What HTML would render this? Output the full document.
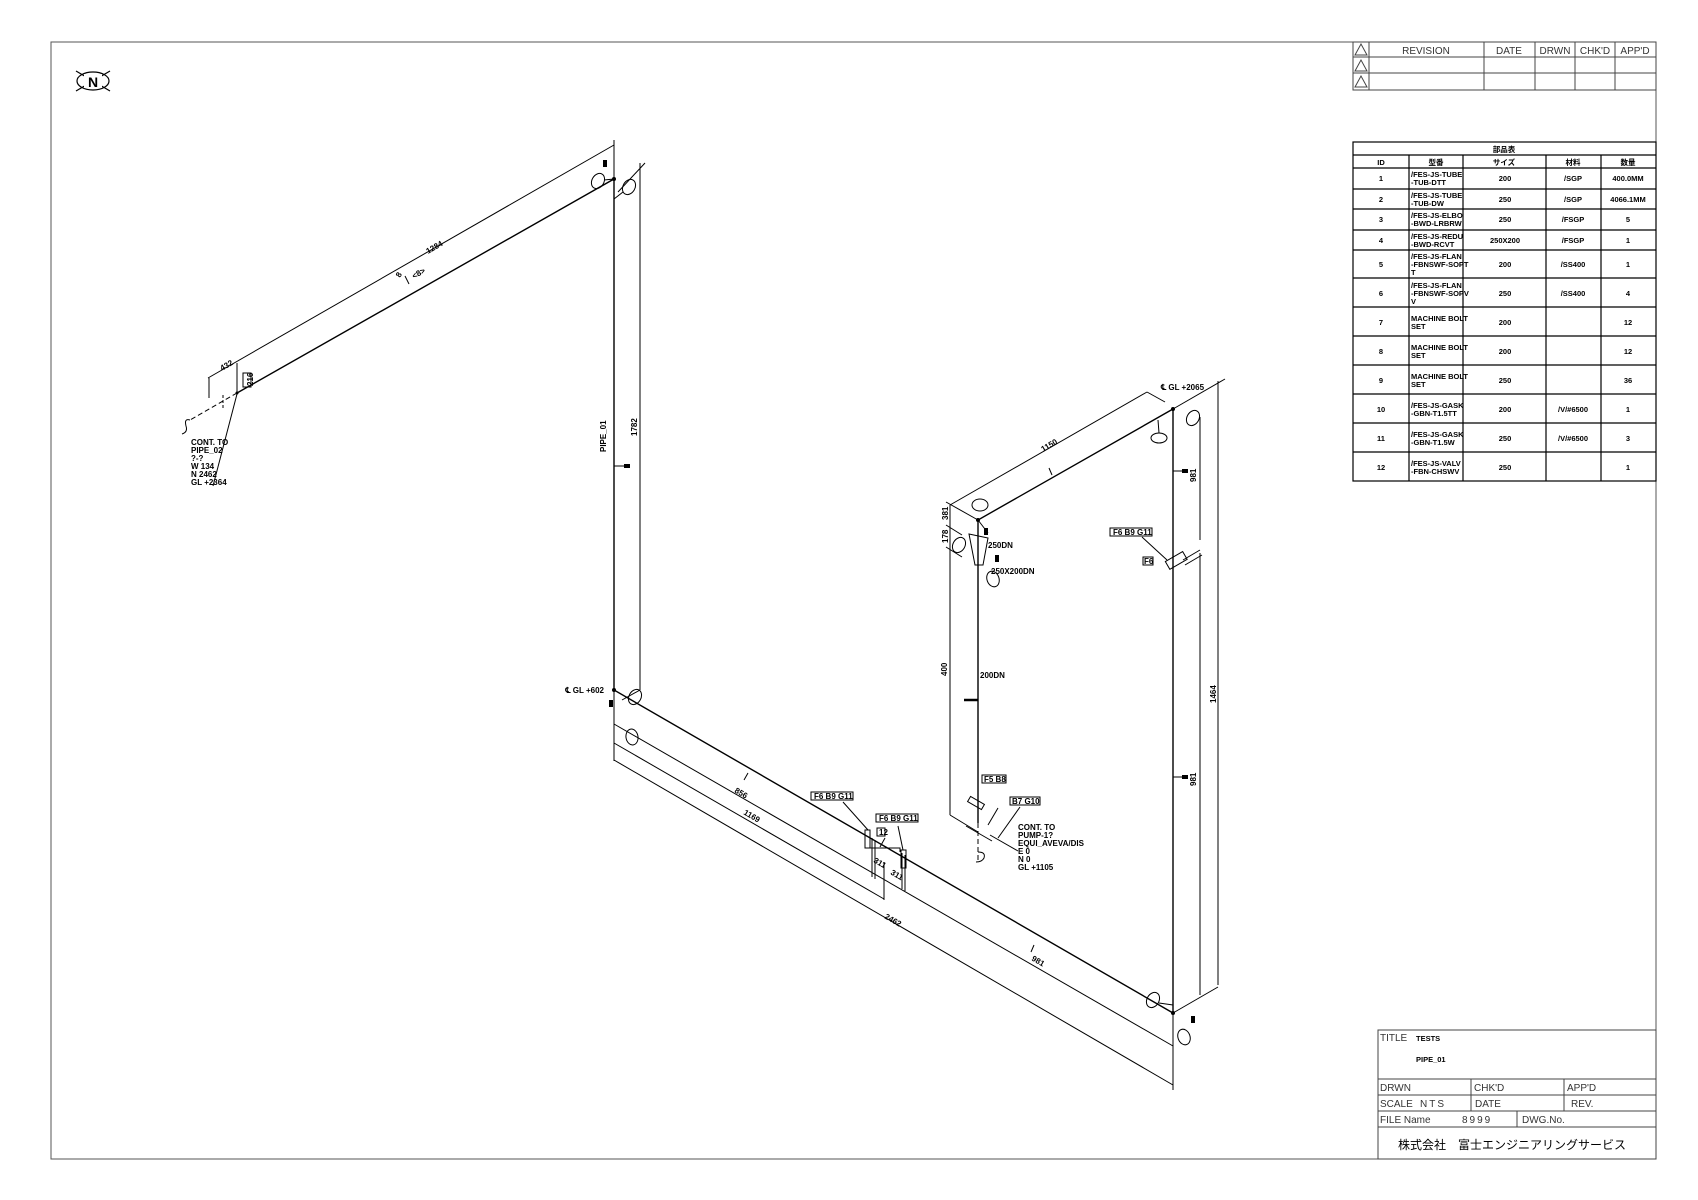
<!DOCTYPE html>
<html><head><meta charset="utf-8"><style>
html,body{margin:0;padding:0;background:#fff;}
svg{display:block;}
text{font-family:"Liberation Sans","Noto Sans CJK JP",sans-serif;}
.s{font-size:8px;font-weight:bold;fill:#000;}
.t{font-size:7.5px;font-weight:bold;fill:#000;}
.r{font-size:10px;fill:#333;}
</style></head><body>
<svg width="1698" height="1200" viewBox="0 0 1698 1200" xmlns="http://www.w3.org/2000/svg">
<rect x="51" y="42" width="1605" height="1117" fill="none" stroke="#555" stroke-width="1"/>
<!-- North -->
<g stroke="#000" fill="none" stroke-width="1.2">
<ellipse cx="93" cy="81" rx="16" ry="9"/>
<line x1="76" y1="71" x2="110" y2="91"/><line x1="110" y1="71" x2="76" y2="91"/>
</g>
<rect x="84" y="74" width="18" height="14" fill="#fff"/>
<text x="93" y="87" font-size="14" font-weight="bold" text-anchor="middle" font-family="Liberation Sans,sans-serif">N</text>

<!-- Revision table -->
<g stroke="#444" stroke-width="1" fill="none">
<rect x="1353" y="42" width="303" height="48"/>
<line x1="1353" y1="57" x2="1656" y2="57"/><line x1="1353" y1="73" x2="1656" y2="73"/>
<line x1="1369" y1="42" x2="1369" y2="90"/><line x1="1484" y1="42" x2="1484" y2="90"/>
<line x1="1535" y1="42" x2="1535" y2="90"/><line x1="1575" y1="42" x2="1575" y2="90"/>
<line x1="1615" y1="42" x2="1615" y2="90"/>
<path d="M1355 55 L1361 44 L1367 55 Z M1355 71 L1361 60 L1367 71 Z M1355 87 L1361 76 L1367 87 Z"/>
</g>
<text class="r" x="1426" y="54" text-anchor="middle">REVISION</text>
<text class="r" x="1509" y="54" text-anchor="middle">DATE</text>
<text class="r" x="1555" y="54" text-anchor="middle">DRWN</text>
<text class="r" x="1595" y="54" text-anchor="middle">CHK'D</text>
<text class="r" x="1635" y="54" text-anchor="middle" font-size="9">APP'D</text>

<!-- Parts table -->
<g stroke="#000" stroke-width="1.2" fill="none">
<rect x="1353" y="142" width="303" height="339"/>
<line x1="1353" y1="155" x2="1656" y2="155"/>
<line x1="1353" y1="168" x2="1656" y2="168"/><line x1="1353" y1="189" x2="1656" y2="189"/>
<line x1="1353" y1="209" x2="1656" y2="209"/><line x1="1353" y1="230" x2="1656" y2="230"/>
<line x1="1353" y1="250" x2="1656" y2="250"/><line x1="1353" y1="278" x2="1656" y2="278"/>
<line x1="1353" y1="307" x2="1656" y2="307"/><line x1="1353" y1="336" x2="1656" y2="336"/>
<line x1="1353" y1="365" x2="1656" y2="365"/><line x1="1353" y1="394" x2="1656" y2="394"/>
<line x1="1353" y1="423" x2="1656" y2="423"/><line x1="1353" y1="452" x2="1656" y2="452"/>
<line x1="1409" y1="155" x2="1409" y2="481"/><line x1="1463" y1="155" x2="1463" y2="481"/>
<line x1="1546" y1="155" x2="1546" y2="481"/><line x1="1601" y1="155" x2="1601" y2="481"/>
</g>
<g class="t">
<text class="t" x="1504" y="152" text-anchor="middle" font-family="Noto Sans CJK JP,sans-serif" font-size="6">部品表</text>
<text class="t" x="1381" y="165" text-anchor="middle">ID</text>
<text class="t" x="1436" y="165" text-anchor="middle" font-size="6">型番</text>
<text class="t" x="1504" y="165" text-anchor="middle" font-size="6">サイズ</text>
<text class="t" x="1573" y="165" text-anchor="middle" font-size="6">材料</text>
<text class="t" x="1628" y="165" text-anchor="middle" font-size="6">数量</text>
</g>
<g class="t" text-anchor="middle">
<text class="t" x="1381" y="181">1</text><text class="t" x="1381" y="202">2</text><text class="t" x="1381" y="222">3</text><text class="t" x="1381" y="243">4</text><text class="t" x="1381" y="267">5</text><text class="t" x="1381" y="296">6</text><text class="t" x="1381" y="325">7</text><text class="t" x="1381" y="354">8</text><text class="t" x="1381" y="383">9</text><text class="t" x="1381" y="412">10</text><text class="t" x="1381" y="441">11</text><text class="t" x="1381" y="470">12</text>
<text class="t" x="1505" y="181">200</text><text class="t" x="1505" y="202">250</text><text class="t" x="1505" y="222">250</text><text class="t" x="1505" y="243">250X200</text><text class="t" x="1505" y="267">200</text><text class="t" x="1505" y="296">250</text><text class="t" x="1505" y="325">200</text><text class="t" x="1505" y="354">200</text><text class="t" x="1505" y="383">250</text><text class="t" x="1505" y="412">200</text><text class="t" x="1505" y="441">250</text><text class="t" x="1505" y="470">250</text>
<text class="t" x="1573" y="181">/SGP</text><text class="t" x="1573" y="202">/SGP</text><text class="t" x="1573" y="222">/FSGP</text><text class="t" x="1573" y="243">/FSGP</text><text class="t" x="1573" y="267">/SS400</text><text class="t" x="1573" y="296">/SS400</text><text class="t" x="1573" y="412">/V/#6500</text><text class="t" x="1573" y="441">/V/#6500</text>
<text class="t" x="1628" y="181">400.0MM</text><text class="t" x="1628" y="202">4066.1MM</text><text class="t" x="1628" y="222">5</text><text class="t" x="1628" y="243">1</text><text class="t" x="1628" y="267">1</text><text class="t" x="1628" y="296">4</text><text class="t" x="1628" y="325">12</text><text class="t" x="1628" y="354">12</text><text class="t" x="1628" y="383">36</text><text class="t" x="1628" y="412">1</text><text class="t" x="1628" y="441">3</text><text class="t" x="1628" y="470">1</text>
</g>
<g class="t">
<text class="t" x="1411" y="177">/FES-JS-TUBE</text><text class="t" x="1411" y="185">-TUB-DTT</text>
<text class="t" x="1411" y="198">/FES-JS-TUBE</text><text class="t" x="1411" y="206">-TUB-DW</text>
<text class="t" x="1411" y="218">/FES-JS-ELBO</text><text class="t" x="1411" y="226">-BWD-LRBRW</text>
<text class="t" x="1411" y="239">/FES-JS-REDU</text><text class="t" x="1411" y="247">-BWD-RCVT</text>
<text class="t" x="1411" y="259">/FES-JS-FLAN</text><text class="t" x="1411" y="267">-FBNSWF-SOPT</text><text class="t" x="1411" y="275">T</text>
<text class="t" x="1411" y="288">/FES-JS-FLAN</text><text class="t" x="1411" y="296">-FBNSWF-SOPV</text><text class="t" x="1411" y="304">V</text>
<text class="t" x="1411" y="321">MACHINE BOLT</text><text class="t" x="1411" y="329">SET</text>
<text class="t" x="1411" y="350">MACHINE BOLT</text><text class="t" x="1411" y="358">SET</text>
<text class="t" x="1411" y="379">MACHINE BOLT</text><text class="t" x="1411" y="387">SET</text>
<text class="t" x="1411" y="408">/FES-JS-GASK</text><text class="t" x="1411" y="416">-GBN-T1.5TT</text>
<text class="t" x="1411" y="437">/FES-JS-GASK</text><text class="t" x="1411" y="445">-GBN-T1.5W</text>
<text class="t" x="1411" y="466">/FES-JS-VALV</text><text class="t" x="1411" y="474">-FBN-CHSWV</text>
</g>

<!-- Title block -->
<g stroke="#444" stroke-width="1" fill="none">
<rect x="1378" y="1030" width="278" height="129"/>
<line x1="1378" y1="1079" x2="1656" y2="1079"/><line x1="1378" y1="1095" x2="1656" y2="1095"/>
<line x1="1378" y1="1111" x2="1656" y2="1111"/><line x1="1378" y1="1127" x2="1656" y2="1127"/>
<line x1="1471" y1="1079" x2="1471" y2="1111"/><line x1="1564" y1="1079" x2="1564" y2="1111"/>
<line x1="1517" y1="1111" x2="1517" y2="1127"/>
</g>
<text class="r" x="1380" y="1041">TITLE</text><text x="1416" y="1041" font-size="7.5" font-weight="bold">TESTS</text>
<text x="1416" y="1062" font-size="7.5" font-weight="bold">PIPE_01</text>
<text class="r" x="1380" y="1091">DRWN</text><text class="r" x="1474" y="1091">CHK'D</text><text class="r" x="1567" y="1091">APP'D</text>
<text class="r" x="1380" y="1107">SCALE</text><text class="r" x="1420" y="1107" letter-spacing="2">NTS</text><text class="r" x="1475" y="1107">DATE</text><text class="r" x="1571" y="1107">REV.</text>
<text class="r" x="1380" y="1123" font-size="9.5">FILE Name</text><text class="r" x="1462" y="1123" letter-spacing="2" font-size="9">8999</text><text class="r" x="1522" y="1123" font-size="9.5">DWG.No.</text>
<text x="1512" y="1149" font-size="12" text-anchor="middle" font-family="Liberation Sans,Noto Sans CJK JP,sans-serif">株式会社　富士エンジニアリングサービス</text>

<!-- Drawing -->
<g stroke="#000" fill="none" stroke-width="1.4">
<polyline points="237,393 614,179 614,690 1173,1013 1173,409 978,520 978,823"/>
<line x1="237" y1="393" x2="190" y2="420" stroke-dasharray="5,3" stroke-width="1"/>
<path d="M190 420 q-6 -2 -4 6 q2 6 -4 8" stroke-width="1"/>
<line x1="978" y1="823" x2="978" y2="860" stroke-dasharray="5,3" stroke-width="1"/>
<path d="M978 852 q8 0 6 6 q-2 4 -8 4" stroke-width="1"/>
</g>
<g stroke="#000" fill="none" stroke-width="1">
<line x1="614" y1="145" x2="208" y2="378"/>
<line x1="614" y1="140" x2="614" y2="179"/>
<line x1="209" y1="378" x2="209" y2="398"/><line x1="237" y1="363" x2="237" y2="392"/>
<line x1="223" y1="395" x2="223" y2="410" stroke-dasharray="3,2"/>
<rect x="243" y="373" width="8" height="14"/>
<line x1="640" y1="163" x2="640" y2="690"/><line x1="618" y1="192" x2="645" y2="163"/><line x1="640" y1="690" x2="622" y2="700"/>
<line x1="213" y1="486" x2="237" y2="394"/>
<line x1="614" y1="690" x2="614" y2="761"/>
<line x1="614" y1="724" x2="1173" y2="1046"/>
<line x1="614" y1="743" x2="884" y2="899"/>
<line x1="614" y1="760" x2="1173" y2="1085"/>
<line x1="1173" y1="1013" x2="1173" y2="1090"/>
<line x1="1173" y1="1013" x2="1218" y2="987"/>
<line x1="872" y1="838" x2="872" y2="877"/><line x1="875" y1="840" x2="875" y2="879"/>
<line x1="884" y1="862" x2="884" y2="900"/>
<line x1="902" y1="853" x2="902" y2="889"/><line x1="905" y1="855" x2="905" y2="891"/>
<rect x="865" y="830" width="5" height="18"/>
<rect x="901" y="850" width="5" height="18"/>
<polyline points="870,848 900,848 900,852"/>
<line x1="885" y1="838" x2="880" y2="847"/>
<line x1="843" y1="802" x2="868" y2="830"/><line x1="898" y1="826" x2="903" y2="850"/>
<line x1="1200" y1="417" x2="1200" y2="540"/><line x1="1200" y1="553" x2="1200" y2="995"/>
<line x1="1218" y1="381" x2="1218" y2="985"/>
<line x1="1173" y1="409" x2="1225" y2="379"/>
<line x1="1183" y1="560" x2="1200" y2="550"/><line x1="1185" y1="565" x2="1202" y2="555"/>
<line x1="1147" y1="392" x2="950" y2="505"/>
<line x1="1147" y1="392" x2="1165" y2="402"/><line x1="946" y1="502" x2="978" y2="520"/>
<line x1="950" y1="505" x2="950" y2="815"/>
<line x1="950" y1="815" x2="978" y2="832"/>
<line x1="946" y1="525" x2="962" y2="535"/><line x1="946" y1="547" x2="962" y2="557"/>
<path d="M969 534 L988 538 L983 565 L975 565 Z"/>
<line x1="978" y1="520" x2="988" y2="533"/>
<rect x="1166" y="556" width="20" height="9" transform="rotate(-30 1176 560)"/>
<line x1="1142" y1="537" x2="1167" y2="560"/>
<line x1="966" y1="826" x2="992" y2="841"/>
<rect x="968" y="800" width="16" height="6" transform="rotate(30 976 803)"/>
<line x1="988" y1="825" x2="998" y2="808"/><line x1="998" y1="838" x2="1020" y2="807"/>
<line x1="990" y1="835" x2="1018" y2="851"/>
<line x1="409" y1="284" x2="405" y2="276"/>
<line x1="614" y1="466" x2="624" y2="466"/>
<line x1="1173" y1="471" x2="1182" y2="471"/><line x1="1173" y1="777" x2="1182" y2="777"/>
<line x1="1052" y1="475" x2="1049" y2="468"/>
<line x1="748" y1="773" x2="744" y2="780"/><line x1="1034" y1="945" x2="1031" y2="952"/>
<line x1="964" y1="700" x2="978" y2="700" stroke-width="2.5"/>
<ellipse cx="598" cy="181" rx="6" ry="8" transform="rotate(30 598 181)"/>
<ellipse cx="629" cy="187" rx="6" ry="8" transform="rotate(30 629 187)"/>
<ellipse cx="635" cy="697" rx="6" ry="8" transform="rotate(30 635 697)"/>
<ellipse cx="632" cy="737" rx="6" ry="8" transform="rotate(-10 632 737)"/>
<ellipse cx="980" cy="505" rx="8" ry="6"/>
<ellipse cx="959" cy="545" rx="6" ry="8" transform="rotate(30 959 545)"/>
<ellipse cx="993" cy="579" rx="6" ry="8" transform="rotate(-20 993 579)"/>
<ellipse cx="1159" cy="438" rx="8" ry="5"/>
<ellipse cx="1193" cy="418" rx="6" ry="8" transform="rotate(30 1193 418)"/>
<ellipse cx="1153" cy="1000" rx="6" ry="8" transform="rotate(30 1153 1000)"/>
<ellipse cx="1184" cy="1037" rx="6" ry="8" transform="rotate(-20 1184 1037)"/>
<line x1="604" y1="180" x2="614" y2="179"/><line x1="623" y1="192" x2="614" y2="199"/>
<line x1="1159" y1="433" x2="1158" y2="420"/><line x1="1159" y1="1003" x2="1173" y2="1005"/>
</g>
<g fill="#000">
<circle cx="614" cy="179" r="2"/><circle cx="614" cy="690" r="2"/><circle cx="1173" cy="409" r="2"/><circle cx="1173" cy="1013" r="2"/><circle cx="978" cy="520" r="2"/><circle cx="237" cy="393" r="1.5"/>
<rect x="603" y="160" width="4" height="7"/><rect x="609" y="700" width="4" height="7"/><rect x="1191" y="1016" width="4" height="7"/><rect x="984" y="528" width="4" height="7"/><rect x="995" y="555" width="4" height="7"/>
<rect x="624" y="464" width="6" height="4"/><rect x="1182" y="469" width="6" height="4"/><rect x="1182" y="775" width="6" height="4"/>
</g>
<g class="s">
<text class="s" x="191" y="445">CONT. TO</text><text class="s" x="191" y="453">PIPE_02</text><text class="s" x="191" y="461">?-?</text><text class="s" x="191" y="469">W 134</text><text class="s" x="191" y="477">N 2462</text><text class="s" x="191" y="485">GL +2364</text>
<text class="s" x="428" y="254" transform="rotate(-30 428 254)">1284</text>
<text class="s" x="400" y="278" transform="rotate(-60 400 278)" font-size="7">8</text>
<text class="s" x="414" y="279" transform="rotate(-30 414 279)" font-size="7">&lt;8&gt;</text>
<text class="s" x="222" y="371" transform="rotate(-30 222 371)">432</text>
<text class="s" x="253" y="386" transform="rotate(-90 253 386)" font-size="7">216</text>
<text class="s" x="606" y="452" transform="rotate(-90 606 452)">PIPE_01</text>
<text class="s" x="637" y="436" transform="rotate(-90 637 436)">1782</text>
<text class="s" x="604" y="693" text-anchor="end">℄ GL +602</text>
<text class="s" x="1161" y="390">℄ GL +2065</text>
<text class="s" x="1043" y="452" transform="rotate(-30 1043 452)">1150</text>
<text class="s" x="948" y="520" transform="rotate(-90 948 520)" font-size="7">381</text>
<text class="s" x="948" y="543" transform="rotate(-90 948 543)" font-size="7">178</text>
<text class="s" x="988" y="548">250DN</text>
<text class="s" x="991" y="574">250X200DN</text>
<text class="s" x="980" y="678">200DN</text>
<text class="s" x="947" y="676" transform="rotate(-90 947 676)">400</text>
<text class="s" x="1196" y="482" transform="rotate(-90 1196 482)">981</text>
<text class="s" x="1196" y="786" transform="rotate(-90 1196 786)">981</text>
<text class="s" x="1216" y="703" transform="rotate(-90 1216 703)">1464</text>
<text class="s" x="1018" y="830">CONT. TO</text><text class="s" x="1018" y="838">PUMP-1?</text><text class="s" x="1018" y="846">EQUI_AVEVA/DIS</text><text class="s" x="1018" y="854">E 0</text><text class="s" x="1018" y="862">N 0</text><text class="s" x="1018" y="870">GL +1105</text>
<text class="s" x="734" y="792" transform="rotate(30 734 792)">856</text>
<text class="s" x="743" y="814" transform="rotate(30 743 814)">1169</text>
<text class="s" x="884" y="918" transform="rotate(30 884 918)">2462</text>
<text class="s" x="1031" y="960" transform="rotate(30 1031 960)">981</text>
<text class="s" x="873" y="862" transform="rotate(30 873 862)">311</text>
<text class="s" x="890" y="874" transform="rotate(30 890 874)">311</text>
</g>
<g stroke="#000" fill="none" stroke-width="1">
<rect x="811" y="792" width="42" height="8"/><rect x="876" y="814" width="42" height="8"/><rect x="877" y="828" width="8" height="8"/>
<rect x="1110" y="528" width="42" height="8"/><rect x="1143" y="557" width="10" height="8"/>
<rect x="982" y="775" width="24" height="8"/><rect x="1010" y="797" width="30" height="8"/>
</g>
<g class="s" font-size="7">
<text class="s" x="814" y="799" font-size="7">F6 B9 G11</text><text class="s" x="879" y="821" font-size="7">F6 B9 G11</text><text class="s" x="879" y="835" font-size="7">12</text>
<text class="s" x="1113" y="535" font-size="7">F6 B9 G11</text><text class="s" x="1144" y="564" font-size="7">F6</text>
<text class="s" x="984" y="782" font-size="7">F5 B8</text><text class="s" x="1012" y="804" font-size="7">B7 G10</text>
</g>
</svg>
</body></html>
